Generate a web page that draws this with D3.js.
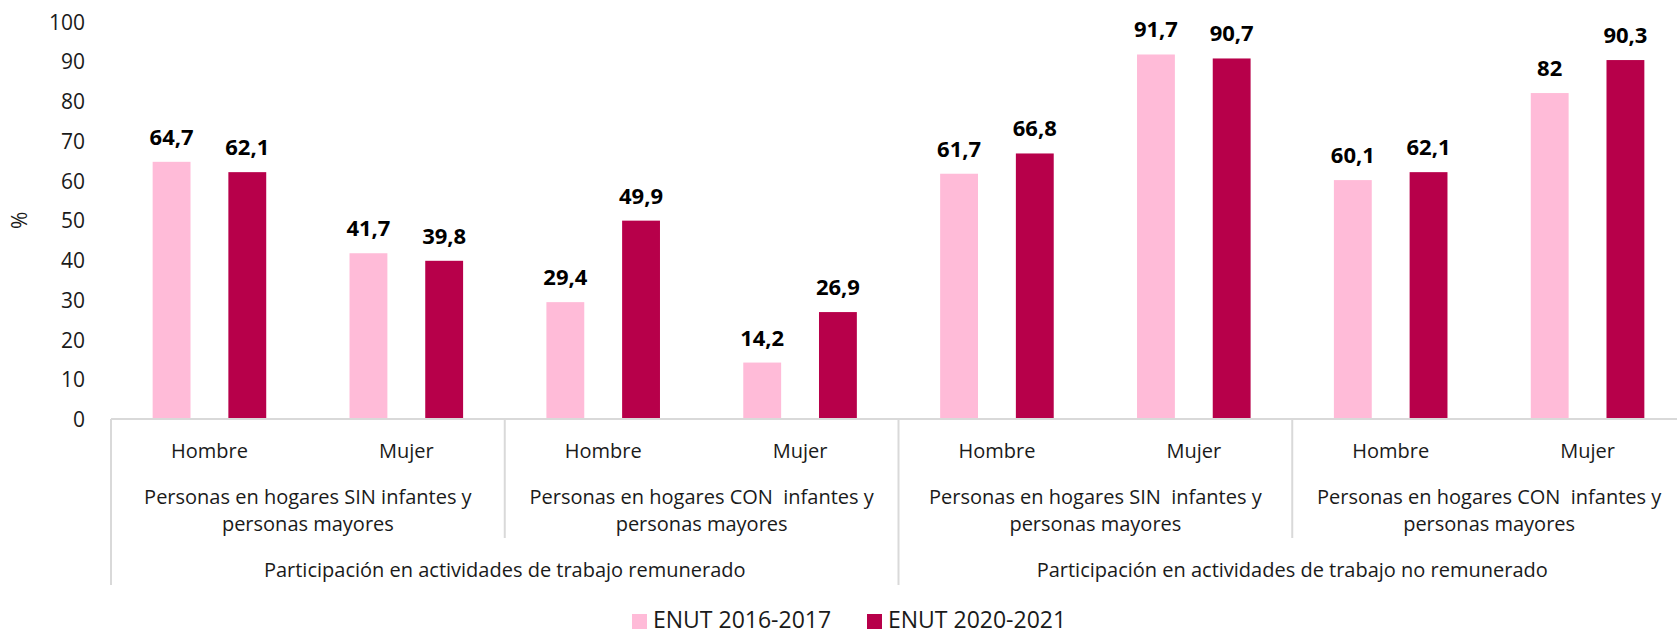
<!DOCTYPE html>
<html>
<head>
<meta charset="utf-8">
<script src="https://cdn.jsdelivr.net/npm/d3@7"></script>
<style>
  body { margin: 0; background: #fff; }
  svg text { font-family: "Open Sans", "Noto Sans", sans-serif; fill: #1a1a1a; white-space: pre; }
</style>
</head>
<body>
<svg id="chart" width="1677" height="631"></svg>
<script>
// chart data
var sexes = ["Hombre", "Mujer", "Hombre", "Mujer", "Hombre", "Mujer", "Hombre", "Mujer"];
var hogares = [
  ["Personas en hogares SIN infantes y", "personas mayores"],
  ["Personas en hogares CON  infantes y", "personas mayores"],
  ["Personas en hogares SIN  infantes y", "personas mayores"],
  ["Personas en hogares CON  infantes y", "personas mayores"]
];
var actividades = ["Participación en actividades de trabajo remunerado", "Participación en actividades de trabajo no remunerado"];
var seriesNames = ["ENUT 2016-2017", "ENUT 2020-2021"];
var enut2016 = [64.7, 41.7, 29.4, 14.2, 61.7, 91.7, 60.1, 82];
var enut2020 = [62.1, 39.8, 49.9, 26.9, 66.8, 90.7, 62.1, 90.3];
var yTicks = [0, 10, 20, 30, 40, 50, 60, 70, 80, 90, 100];
var colors = ["#ffbbd8", "#b7004a"];

var svg = d3.select("#chart");
var plotLeft = 111, plotRight = 1686, plotTop = 21.5, base = 419;
var idx = d3.range(sexes.length);

var x = d3.scaleBand().domain(idx).range([plotLeft, plotRight]).padding(0);
var xs = d3.scaleBand().domain([0, 1]).range([0, x.bandwidth()])
  .paddingInner(0.5).paddingOuter(0.55);
var y = d3.scaleLinear().domain([0, 100]).range([base, plotTop]);

// y axis labels only
var yAxis = svg.append("g").attr("transform", "translate(" + (plotLeft - 14) + ",0)")
  .call(d3.axisLeft(y).tickValues(yTicks).tickSize(0).tickPadding(12));
yAxis.select(".domain").remove();
yAxis.selectAll("text").style("font-size", "21px").attr("dy", "0.36em");

svg.append("text")
  .attr("transform", "translate(27," + y(50) + ") rotate(-90)")
  .attr("text-anchor", "middle")
  .style("font-size", "21px")
  .text("%");

// bars
var all = [enut2016, enut2020];
all.forEach(function(vals, s) {
  var g = svg.append("g");
  g.selectAll("rect").data(vals).enter().append("rect")
    .attr("x", function(d, i) { return x(i) + xs(s); })
    .attr("y", function(d) { return y(d); })
    .attr("width", xs.bandwidth())
    .attr("height", function(d) { return base - y(d); })
    .style("fill", colors[s]);
  g.selectAll("text").data(vals).enter().append("text")
    .attr("x", function(d, i) { return x(i) + xs(s) + xs.bandwidth() / 2; })
    .attr("y", function(d) { return y(d) - 17; })
    .attr("text-anchor", "middle")
    .style("font-size", "22px")
    .style("font-weight", "bold")
    .style("fill", "#000")
    .text(function(d) { return String(d).replace(".", ","); });
});

// category axis
var xAxis = svg.append("g").attr("transform", "translate(0," + base + ")")
  .call(d3.axisBottom(x).tickSize(0).tickPadding(30).tickFormat(function(i) { return sexes[i]; }));
xAxis.select(".domain").remove();
xAxis.selectAll("text").style("font-size", "20px").attr("dy", "0.45em");

var lineCol = "#d9d9d9";
svg.append("line").attr("x1", plotLeft).attr("x2", plotRight).attr("y1", base).attr("y2", base)
  .style("stroke", lineCol).style("stroke-width", 2);

// group separators
var gw = x.step() * 2;
[0, 1, 2, 3, 4].forEach(function(k) {
  var xx = plotLeft + k * gw;
  var long = (k % 2 === 0);
  svg.append("line").attr("x1", xx).attr("x2", xx)
    .attr("y1", base).attr("y2", long ? 585 : 538)
    .style("stroke", lineCol).style("stroke-width", 2);
});

hogares.forEach(function(lines, k) {
  var t = svg.append("text").attr("text-anchor", "middle").style("font-size", "20px");
  lines.forEach(function(l, j) {
    t.append("tspan").attr("x", plotLeft + k * gw + gw / 2).attr("y", 504 + j * 27).text(l);
  });
});

actividades.forEach(function(l, k) {
  svg.append("text").attr("text-anchor", "middle").style("font-size", "20px")
    .attr("x", plotLeft + k * gw * 2 + gw).attr("y", 577).text(l);
});

// legend
var legend = svg.append("g");
var legX = [632, 867];
seriesNames.forEach(function(n, s) {
  legend.append("rect").attr("x", legX[s]).attr("y", 614).attr("width", 15).attr("height", 15)
    .style("fill", colors[s]);
  legend.append("text").attr("x", legX[s] + 21).attr("y", 628)
    .style("font-size", "23px").text(n);
});
</script>
</body>
</html>
